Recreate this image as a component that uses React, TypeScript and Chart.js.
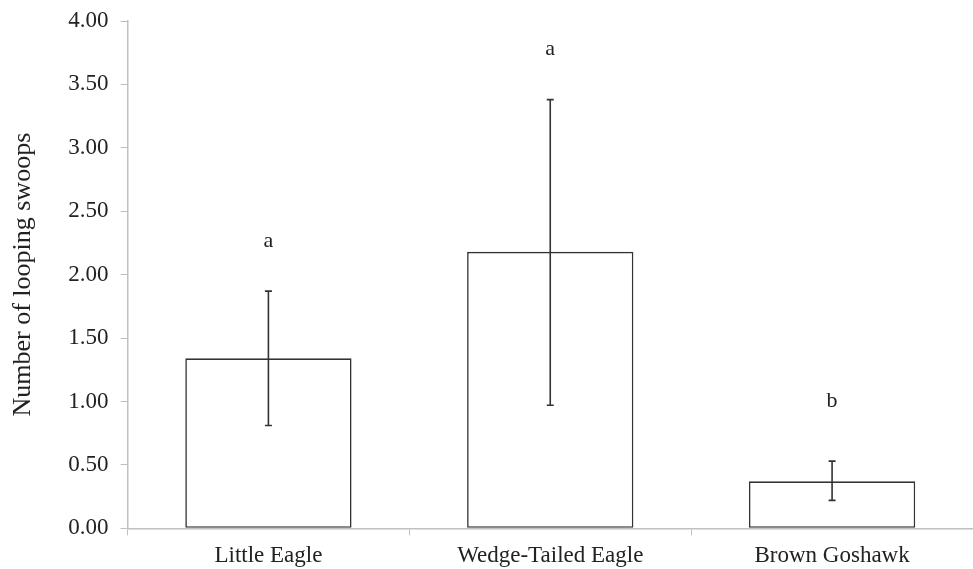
import React, { useEffect, useRef } from "react";
import { Chart, registerables } from "chart.js";

Chart.register(...registerables);

const categories = ["Little Eagle", "Wedge-Tailed Eagle", "Brown Goshawk"];
const means = [1.34, 2.18, 0.37];
const errLow = [0.81, 0.97, 0.22];
const errHigh = [1.87, 3.38, 0.53];
const letters = ["a", "a", "b"];
const letterY = [2.26, 3.78, 1.0];
const yTicks = [0, 0.5, 1, 1.5, 2, 2.5, 3, 3.5, 4];

const FONT = "'Liberation Serif', 'Times New Roman', serif";
const AXIS = "#c0c0c0";
const INK = "#222222";

const errorPlugin = {
  id: "errorBarsLetters",
  afterDatasetsDraw(chart: any) {
    const ctx = chart.ctx;
    const meta = chart.getDatasetMeta(0);
    const y = chart.scales.y;
    ctx.save();
    ctx.strokeStyle = "#333333";
    ctx.lineWidth = 1.6;
    meta.data.forEach((bar: any, i: number) => {
      const x = bar.x;
      const yl = y.getPixelForValue(errLow[i]);
      const yh = y.getPixelForValue(errHigh[i]);
      ctx.beginPath();
      ctx.moveTo(x, yl);
      ctx.lineTo(x, yh);
      ctx.moveTo(x - 3.5, yl);
      ctx.lineTo(x + 3.5, yl);
      ctx.moveTo(x - 3.5, yh);
      ctx.lineTo(x + 3.5, yh);
      ctx.stroke();
      ctx.fillStyle = INK;
      ctx.font = `22px ${FONT}`;
      ctx.textAlign = "center";
      ctx.textBaseline = "middle";
      ctx.fillText(letters[i], x, y.getPixelForValue(letterY[i]));
    });
    ctx.restore();
  },
};

export default function App() {
  const ref = useRef<HTMLCanvasElement | null>(null);
  useEffect(() => {
    if (!ref.current) return;
    const chart = new Chart(ref.current, {
      type: "bar",
      data: {
        labels: categories,
        datasets: [
          {
            data: means,
            backgroundColor: "#ffffff",
            borderColor: "#333333",
            borderWidth: 1.6,
            borderSkipped: false,
            barPercentage: 0.59,
            categoryPercentage: 1,
          },
        ],
      },
      options: {
        animation: false,
        responsive: false,
        maintainAspectRatio: false,
        layout: { padding: { top: 21, right: 0, left: 0, bottom: 0 } },
        plugins: { legend: { display: false }, tooltip: { enabled: false } },
        scales: {
          x: {
            grid: {
              display: true,
              drawOnChartArea: false,
              drawTicks: true,
              tickLength: 7,
              color: AXIS,
              offset: true,
            },
            border: { display: true, color: AXIS, width: 1.5 },
            ticks: {
              color: INK,
              font: { family: FONT, size: 23 },
              padding: 7,
              maxRotation: 0,
            },
            afterFit(scale: any) {
              scale.height = 40.7;
              scale.paddingLeft = 0;
              scale.paddingRight = 0;
            },
          },
          y: {
            min: 0,
            max: 4,
            afterBuildTicks(scale: any) {
              scale.ticks = yTicks.map((v) => ({ value: v }));
            },
            grid: {
              display: true,
              drawOnChartArea: false,
              drawTicks: true,
              tickLength: 7,
              color: AXIS,
            },
            border: { display: true, color: AXIS, width: 1.5 },
            ticks: {
              color: INK,
              font: { family: FONT, size: 23 },
              padding: 12,
              callback: (v: any) => Number(v).toFixed(2),
            },
            title: {
              display: true,
              text: "Number of looping swoops",
              color: INK,
              font: { family: FONT, size: 26 },
              padding: { top: 8, bottom: 14 },
            },
            afterFit(scale: any) {
              scale.width = 127.5;
              scale.paddingTop = 0;
              scale.paddingBottom = 0;
            },
          },
        },
      },
      plugins: [errorPlugin],
    });
    return () => chart.destroy();
  }, []);
  return (
    <div style={{ position: "fixed", left: 0, top: 0, width: 973, height: 569, background: "#fff" }}>
      <canvas ref={ref} width={973} height={569} style={{ width: 973, height: 569 }} />
    </div>
  );
}
